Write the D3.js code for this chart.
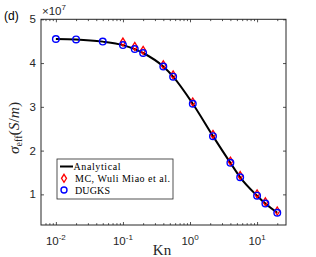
<!DOCTYPE html>
<html>
<head>
<meta charset="utf-8">
<script src="https://cdn.jsdelivr.net/npm/d3@7"></script>
<style>
  body { margin: 0; background: #fff; }
  svg { display: block; }
</style>
</head>
<body>
<svg width="316" height="257"></svg>
<script>
// Kn values and sigma_eff (units of 1e7 S/m)
let knLine = [0.01, 0.02, 0.05, 0.1, 0.15, 0.2, 0.4, 0.56, 1.1, 2.2, 4, 5.6, 10, 13.3, 20];
let sigLine = [4.55, 4.54, 4.49, 4.41, 4.32, 4.23, 3.92, 3.69, 3.07, 2.33, 1.72, 1.39, 0.97, 0.79, 0.58];

let knDugks = [0.01, 0.02, 0.05, 0.1, 0.15, 0.2, 0.4, 0.56, 1.1, 2.2, 4, 5.6, 10, 13.3, 20];
let sigDugks = [4.55, 4.54, 4.49, 4.41, 4.32, 4.23, 3.92, 3.69, 3.07, 2.33, 1.72, 1.39, 0.97, 0.79, 0.58];

let knMC = [0.1, 0.15, 0.2, 0.4, 0.56, 1.1, 2.2, 4, 5.6, 10, 13.3, 20];
let sigMC = [4.48, 4.38, 4.29, 3.96, 3.73, 3.11, 2.37, 1.76, 1.43, 1.01, 0.83, 0.62];

let xMajor = [0.01, 0.1, 1, 10];
let xMajorExp = ["-2", "-1", "0", "1"];
let yTicks = [1, 2, 3, 4, 5];
let legendNames = ["Analytical", "MC, Wuli Miao et al.", "DUGKS"];

let s = d3.select("svg");
let axisColor = "#262626";

let L = 41, R = 286, T = 19.3, B = 225;
let x = d3.scaleLog().domain([0.006, 27]).range([L, R]);
let y = d3.scaleLinear().domain([0.3, 5]).range([B, T]);

// minor ticks for log axis
let xMinor = [];
for (let e = -3; e <= 1; e++) {
    for (let k = 2; k <= 9; k++) {
        let v = k * Math.pow(10, e);
        if (v > 0.006 && v < 27) xMinor.push(v);
    }
}

let styleAxis = (g) => {
    g.select(".domain").remove();
    g.selectAll("line").attr("stroke", axisColor).attr("stroke-width", 0.8);
};

// ticks on all four sides, pointing inward
s.append("g").attr("transform", "translate(0," + B + ")")
    .call(d3.axisBottom(x).tickValues(xMajor).tickSize(-3).tickFormat("")).call(styleAxis);
s.append("g").attr("transform", "translate(0," + B + ")")
    .call(d3.axisBottom(x).tickValues(xMinor).tickSize(-1.8).tickFormat("")).call(styleAxis);
s.append("g").attr("transform", "translate(0," + T + ")")
    .call(d3.axisTop(x).tickValues(xMajor).tickSize(-3).tickFormat("")).call(styleAxis);
s.append("g").attr("transform", "translate(0," + T + ")")
    .call(d3.axisTop(x).tickValues(xMinor).tickSize(-1.8).tickFormat("")).call(styleAxis);
s.append("g").attr("transform", "translate(" + L + ",0)")
    .call(d3.axisLeft(y).tickValues(yTicks).tickSize(-3).tickFormat("")).call(styleAxis);
s.append("g").attr("transform", "translate(" + R + ",0)")
    .call(d3.axisRight(y).tickValues(yTicks).tickSize(-3).tickFormat("")).call(styleAxis);

// box
s.append("rect")
    .attr("x", L).attr("y", T)
    .attr("width", R - L).attr("height", B - T)
    .attr("fill", "none")
    .attr("stroke", axisColor)
    .attr("stroke-width", 1);

// y tick labels
s.selectAll(".ylab").data(yTicks).enter().append("text")
    .attr("x", L - 5)
    .attr("y", d => y(d) + 4)
    .attr("text-anchor", "end")
    .attr("style", "font-family: 'Liberation Sans', Arial; font-size: 11.5px")
    .attr("fill", axisColor)
    .text(d => d);

// x tick labels 10^n
xMajor.forEach((v, i) => {
    let t = s.append("text")
        .attr("x", x(v))
        .attr("y", 245)
        .attr("text-anchor", "middle")
        .attr("style", "font-family: 'Liberation Sans', Arial; font-size: 11.5px")
        .attr("fill", axisColor);
    t.append("tspan").text("10");
    t.append("tspan").attr("dy", -5).attr("style", "font-size: 8px").text(xMajorExp[i]);
});

// x10^7 multiplier
let m = s.append("text")
    .attr("x", 42).attr("y", 15)
    .attr("style", "font-family: 'Liberation Sans', Arial; font-size: 11.5px")
    .attr("fill", axisColor);
m.append("tspan").text("\u00d710");
m.append("tspan").attr("dy", -5).attr("style", "font-size: 8px").text("7");

// panel label
s.append("text")
    .attr("x", 4).attr("y", 20)
    .attr("style", "font-family: 'Liberation Sans', Arial; font-size: 12px")
    .attr("fill", "#000")
    .text("(d)");

// axis titles
s.append("text")
    .attr("x", 162).attr("y", 255)
    .attr("text-anchor", "middle")
    .attr("style", "font-family: 'Liberation Serif', serif; font-size: 15px")
    .attr("fill", axisColor)
    .text("Kn");

let yl = s.append("text")
    .attr("transform", "translate(19," + 128 + ") rotate(-90)")
    .attr("text-anchor", "middle")
    .attr("style", "font-family: 'Liberation Serif', serif; font-size: 15.5px")
    .attr("fill", axisColor);
yl.append("tspan").attr("font-style", "italic").text("\u03c3");
yl.append("tspan").attr("dy", 3).attr("style", "font-size: 10px").text("eff");
yl.append("tspan").attr("dy", -3).text("(");
yl.append("tspan").attr("font-style", "italic").text("S");
yl.append("tspan").text("/");
yl.append("tspan").attr("font-style", "italic").text("m");
yl.append("tspan").text(")");

// analytical curve
let lineData = knLine.map((k, i) => [k, sigLine[i]]);
s.append("path")
    .datum(lineData)
    .attr("d", d3.line().x(d => x(d[0])).y(d => y(d[1])).curve(d3.curveMonotoneX))
    .attr("fill", "none")
    .attr("stroke", "#000")
    .attr("stroke-width", 2);

// MC diamonds
let diamond = (cx, cy) => "M " + cx + " " + (cy - 4) + " L " + (cx + 2.5) + " " + cy +
    " L " + cx + " " + (cy + 4) + " L " + (cx - 2.5) + " " + cy + " Z";
s.selectAll(".mc").data(knMC).enter().append("path")
    .attr("class", "mc")
    .attr("d", (d, i) => diamond(x(d), y(sigMC[i])))
    .attr("fill", "none")
    .attr("stroke", "#ff0000")
    .attr("stroke-width", 1.3);

// DUGKS circles
s.selectAll(".dg").data(knDugks).enter().append("circle")
    .attr("class", "dg")
    .attr("cx", d => x(d))
    .attr("cy", (d, i) => y(sigDugks[i]))
    .attr("r", 3.3)
    .attr("fill", "none")
    .attr("stroke", "#0000ff")
    .attr("stroke-width", 1.4);

// legend
let lg = s.append("g");
lg.append("rect")
    .attr("x", 57).attr("y", 159)
    .attr("width", 116).attr("height", 40)
    .attr("fill", "#fff")
    .attr("stroke", axisColor)
    .attr("stroke-width", 0.8);
let rowY = [166.5, 178.3, 190];
let rowW = [47, 95, 35];
lg.append("line")
    .attr("x1", 60).attr("x2", 73).attr("y1", rowY[0]).attr("y2", rowY[0])
    .attr("stroke", "#000").attr("stroke-width", 2);
lg.append("path")
    .attr("d", diamond(64, rowY[1]))
    .attr("fill", "none").attr("stroke", "#ff0000").attr("stroke-width", 1.3);
lg.append("circle")
    .attr("cx", 64).attr("cy", rowY[2]).attr("r", 3)
    .attr("fill", "none").attr("stroke", "#0000ff").attr("stroke-width", 1.4);
lg.selectAll(".lt").data(legendNames).enter().append("text")
    .attr("x", (d, i) => i === 0 ? 73.5 : 75)
    .attr("y", (d, i) => rowY[i] + 3.5)
    .attr("textLength", (d, i) => rowW[i])
    .attr("lengthAdjust", "spacing")
    .attr("style", "font-family: 'Liberation Serif', serif; font-size: 10px")
    .attr("fill", "#000")
    .text(d => d);
</script>
</body>
</html>
